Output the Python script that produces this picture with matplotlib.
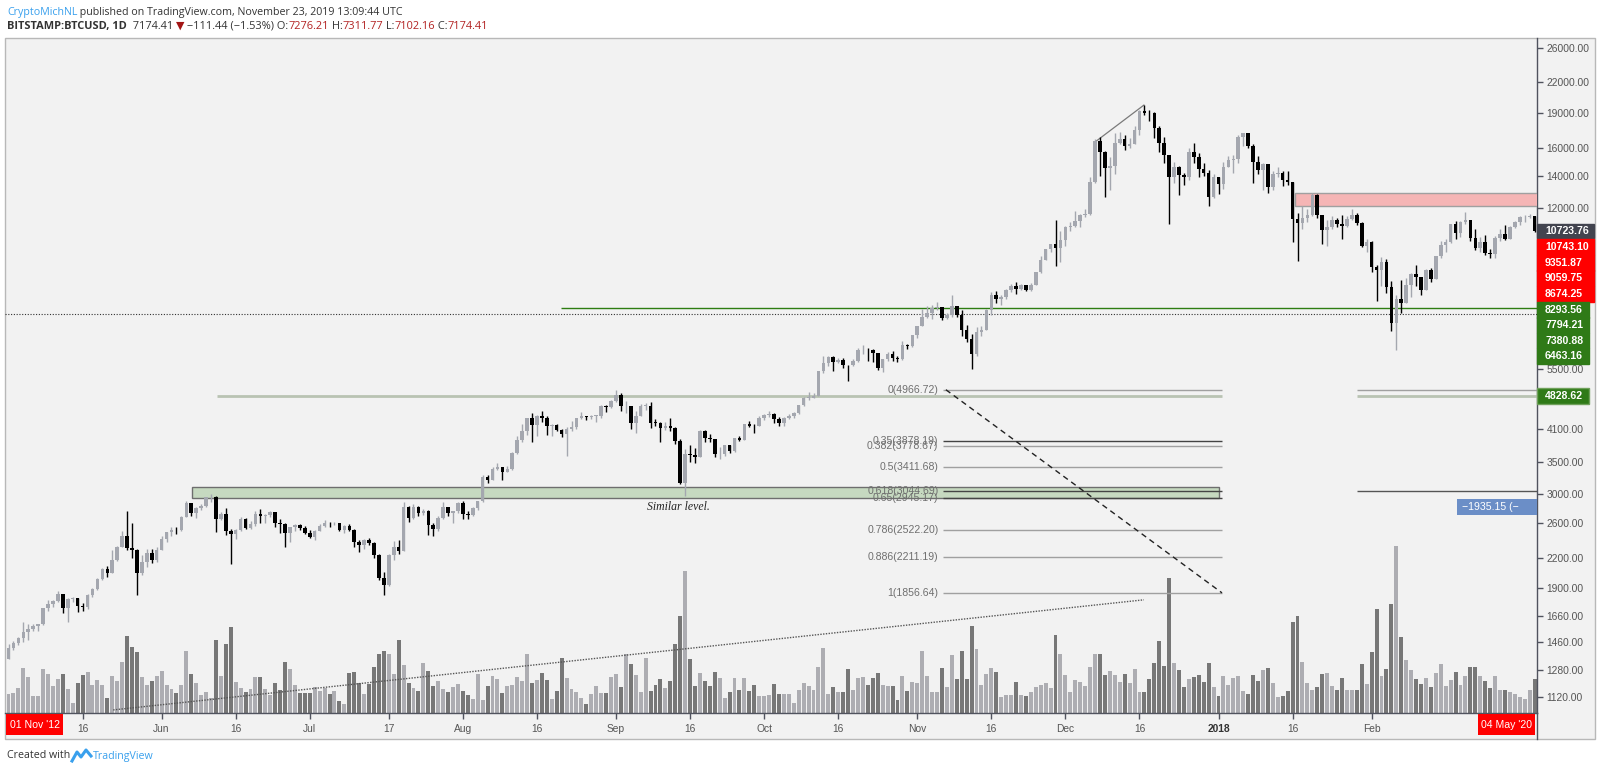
import datetime as dt
import numpy as np
import matplotlib
matplotlib.use("Agg")
import matplotlib.pyplot as plt
from matplotlib.patches import Rectangle
from matplotlib.lines import Line2D
from matplotlib.ticker import NullLocator

plt.rcParams['font.family'] = ['Liberation Sans', 'DejaVu Sans']

# ---------------- data (BITSTAMP:BTCUSD daily, 1 May 2017 -> 6 Mar 2018) ----------------
start_date = dt.date(2017, 5, 1)
first_open = 1348.0

closes = [
    1421, 1453, 1490, 1537, 1555, 1579, 1597, 1723, 1755, 1787, 1849, 1724, 1805, 1809, 1738, 1735,
    1839, 1889, 1988, 2085, 2041, 2173, 2320, 2444, 2305, 2290, 2040, 2156, 2256, 2176, 2286,  # May
    2408, 2489, 2515, 2512, 2687, 2863, 2732, 2806, 2824, 2948, 2958, 2660, 2717, 2506, 2465,
    2519, 2656, 2548, 2590, 2722, 2689, 2705, 2745, 2609, 2589, 2479, 2553, 2575, 2539, 2481,  # Jun
    2435, 2507, 2564, 2602, 2601, 2609, 2519, 2571, 2518, 2373, 2338, 2399, 2358, 2233, 1999, 1930,
    2228, 2319, 2273, 2818, 2668, 2810, 2730, 2755, 2577, 2530, 2672, 2809, 2727, 2757, 2875,  # Jul
    2718, 2711, 2805, 2896, 3253, 3214, 3379, 3420, 3342, 3381, 3651, 3885, 4073, 4325, 4182, 4377,
    4332, 4161, 4194, 4088, 4002, 4100, 4151, 4335, 4372, 4352, 4383, 4383, 4579, 4565, 4703,  # Aug
    4830, 4579, 4583, 4236, 4377, 4597, 4600, 4229, 4226, 4123, 4161, 4131, 3883, 3155, 3637,
    3625, 3583, 4065, 3925, 3906, 3631, 3631, 3792, 3683, 3926, 3892, 4201, 4175, 4163, 4339,  # Sep
    4404, 4409, 4318, 4229, 4328, 4371, 4427, 4611, 4772, 4782, 4827, 5447, 5647, 5832, 5678, 5726,
    5606, 5591, 5709, 6012, 6032, 6008, 5930, 5527, 5751, 5905, 5781, 5753, 6154, 6131, 6468,  # Oct
    6767, 7079, 7208, 7380, 7407, 7023, 7144, 7460, 7144, 6618, 6358, 5900, 6560, 6636, 7316,
    7872, 7709, 7790, 8036, 8201, 8071, 8254, 8039, 8254, 8791, 9331, 9818, 10059, 9889, 10234,  # Nov
    10900, 11000, 11250, 11600, 11650, 13600, 16550, 15700, 14560, 14700, 16390, 16700, 16200, 16300,
    17480, 19190, 19000, 18950, 17620, 16430, 15480, 13940, 14590, 14050, 13900, 15730, 15360, 14450,
    14200, 12650, 13900,  # Dec
    13450, 14630, 15120, 15150, 16920, 17200, 16160, 14990, 14400, 14800, 13280, 14150, 14200, 13700,
    13600, 11340, 11150, 11400, 11600, 12750, 11580, 10760, 10950, 11300, 11100, 11000, 11350, 11600,
    11150, 9960, 10150,  # Jan
    8985, 8850, 9200, 8180, 6850, 7690, 7560, 8250, 8700, 8560, 8050, 8870, 8500, 9490, 10010, 10180,
    11080, 10600, 11200, 11300, 10350, 9850, 10150, 9615, 9590, 10340, 10580, 10300,  # Feb
    10940, 11200, 11450, 11480, 11520, 10723.76,  # Mar
]

highs = [
    1450, 1470, 1500, 1610, 1600, 1598, 1600, 1725, 1790, 1790, 1875, 1850, 1810, 1820, 1810, 1770,
    1850, 1905, 1995, 2090, 2110, 2290, 2330, 2500, 2760, 2600, 2300, 2230, 2300, 2300, 2320,
    2450, 2490, 2560, 2550, 2700, 2900, 2870, 2815, 2850, 2950, 2990, 2975, 2750, 2800, 2530,
    2530, 2680, 2670, 2630, 2760, 2790, 2720, 2760, 2750, 2650, 2600, 2560, 2590, 2590, 2570,
    2520, 2520, 2590, 2640, 2620, 2620, 2610, 2580, 2590, 2530, 2400, 2410, 2420, 2380, 2240, 2050,
    2240, 2390, 2400, 2890, 2830, 2860, 2830, 2790, 2770, 2600, 2690, 2880, 2810, 2760, 2890,
    2900, 2760, 2810, 2900, 3290, 3280, 3420, 3480, 3420, 3440, 3680, 3960, 4200, 4330, 4430, 4400,
    4480, 4370, 4200, 4200, 4100, 4140, 4260, 4340, 4460, 4380, 4390, 4390, 4620, 4620, 4730,
    4960, 4900, 4700, 4580, 4480, 4640, 4650, 4680, 4310, 4250, 4250, 4330, 4140, 3920, 3730,
    3800, 3750, 4080, 4080, 4000, 3920, 3760, 3800, 3790, 3940, 3970, 4210, 4270, 4200, 4370,
    4410, 4470, 4430, 4350, 4360, 4420, 4460, 4620, 4800, 4920, 4880, 5450, 5850, 5840, 5860, 5790,
    5780, 5600, 5750, 6070, 6180, 6080, 6050, 5890, 5760, 5970, 6000, 5840, 6300, 6200, 6470,
    6770, 7350, 7450, 7480, 7600, 7430, 7200, 7860, 7460, 7320, 6800, 6490, 6730, 6750, 7330,
    7960, 8000, 7850, 8100, 8270, 8370, 8300, 8260, 8330, 8800, 9500, 9830, 10070, 11300, 10700,
    11000, 11200, 11800, 11650, 11900, 13900, 16700, 16900, 15800, 15300, 17200, 17300, 17100, 16800,
    17800, 19300, 19720, 19300, 19100, 17800, 16900, 15500, 15000, 14700, 14200, 16000, 16400, 15600,
    14900, 14400, 14100,
    13900, 15000, 15400, 15450, 17100, 17250, 17200, 16300, 15400, 14900, 14850, 14300, 14600, 14300,
    14300, 13600, 11700, 12100, 11900, 12900, 12800, 11600, 11300, 11500, 11400, 11600, 11500, 11900,
    11700, 11200, 10300,
    10200, 9100, 9450, 9350, 8400, 7850, 8450, 8550, 8750, 9100, 8560, 8900, 8950, 9500, 10200, 10300,
    11100, 11250, 11250, 11750, 11300, 10800, 10400, 10500, 9800, 10450, 10800, 11050,
    11000, 11250, 11550, 11600, 11650, 11550,
]

lows = [
    1348, 1405, 1445, 1460, 1480, 1545, 1540, 1590, 1700, 1735, 1780, 1680, 1610, 1775, 1690, 1700,
    1720, 1820, 1880, 1980, 2000, 2040, 2170, 2320, 2280, 2200, 1840, 2020, 2100, 2150, 2160,
    2280, 2380, 2450, 2470, 2510, 2680, 2700, 2670, 2780, 2810, 2880, 2490, 2640, 2460, 2140,
    2410, 2500, 2530, 2530, 2570, 2610, 2600, 2680, 2560, 2480, 2320, 2380, 2500, 2520, 2470,
    2420, 2400, 2500, 2560, 2560, 2580, 2500, 2480, 2510, 2320, 2260, 2300, 2340, 2200, 1980, 1840,
    1920, 2180, 2240, 2270, 2620, 2660, 2700, 2710, 2460, 2440, 2510, 2660, 2700, 2610, 2740,
    2660, 2650, 2700, 2780, 2880, 3160, 3200, 3360, 3200, 3330, 3370, 3630, 3850, 3990, 3850, 3970,
    4250, 3980, 3960, 4060, 3950, 3600, 4060, 4100, 4300, 4280, 4300, 4250, 4330, 4460, 4550,
    4690, 4480, 4430, 4100, 4030, 4380, 4500, 4120, 4160, 3860, 4080, 4060, 3810, 3150, 2970,
    3500, 3480, 3580, 3860, 3860, 3590, 3550, 3600, 3650, 3680, 3870, 3890, 4140, 4020, 4160,
    4290, 4360, 4220, 4170, 4160, 4320, 4330, 4410, 4590, 4730, 4760, 4820, 5380, 5570, 5450, 5640,
    5510, 5170, 5560, 5690, 5900, 5710, 5670, 5460, 5400, 5720, 5700, 5690, 5730, 6050, 6100,
    6380, 6760, 7020, 7010, 7300, 6960, 6990, 7080, 7060, 6440, 6250, 5500, 5850, 6440, 6640,
    7120, 7570, 7500, 7700, 7990, 7890, 8070, 8000, 8000, 8230, 8760, 9330, 9700, 9050, 9200,
    9950, 10700, 10900, 10950, 11450, 11600, 13550, 14000, 12640, 13100, 14100, 16300, 15900, 16000,
    16300, 17100, 18800, 18300, 16800, 15700, 14900, 11100, 13500, 12750, 13400, 13700, 14900, 13900,
    14000, 12080, 12600,
    12800, 13150, 14600, 14200, 14900, 16200, 16000, 13550, 14100, 13100, 12900, 13100, 13900, 13300,
    13400, 10170, 9280, 10800, 11200, 11500, 11400, 10060, 9950, 10800, 10900, 10300, 10900, 11300,
    11050, 9900, 9700,
    8800, 7650, 8200, 7950, 6600, 6020, 7200, 7600, 7800, 8200, 7850, 8050, 8350, 8500, 9400, 9700,
    10100, 10300, 10400, 11100, 10200, 9750, 9700, 9550, 9400, 9400, 10200, 10250,
    10300, 10850, 11050, 11200, 11400, 10650,
]

# volume (relative units)
volumes = [
    19, 20, 25, 45, 36, 17, 17, 44, 39, 27, 34, 39, 24, 10, 30, 38, 41, 28, 33, 28,
    15, 37, 32, 51, 77, 66, 61, 36, 28, 32, 37, 42, 28, 24, 20, 28, 62, 39, 30, 18,
    21, 15, 73, 37, 69, 86, 31, 25, 21, 24, 36, 36, 24, 18, 30, 23, 51, 44, 28,
    20, 20, 20, 26, 22, 25, 19, 22, 12, 9, 40, 41, 30, 19, 29, 46, 59, 62, 59, 39,
    73, 48, 30, 25, 22, 50, 42, 27, 32, 24, 21, 26, 29, 22, 18, 14, 39, 13, 27, 37,
    34, 20, 27, 28, 36, 32, 59, 30, 33, 40, 33, 14, 22, 55, 35, 24, 21, 15, 9, 19,
    27, 20, 20, 36, 39, 26, 59, 49, 38, 21, 55, 22, 28, 34, 25, 32, 69, 97, 142, 54,
    27, 40, 32, 27, 41, 35, 15, 21, 35, 23, 35, 22, 28, 17, 17,
    18, 29, 19, 19, 19, 10, 23, 30, 27, 23, 46, 65, 19, 26, 21, 21, 44, 23, 35, 36,
    28, 35, 40, 28, 27, 27, 13, 37, 22, 31, 30, 62, 37, 21, 21, 45, 26, 58, 34, 62,
    34, 87, 64, 28, 39, 45, 41, 16, 18, 18, 31, 18, 17, 21, 26, 28, 30, 25, 78, 59,
    38, 21, 33, 31, 27, 46, 59, 59, 38, 42, 38, 31, 39, 30, 44, 21, 21, 34, 50, 72,
    47, 135, 50, 43, 26, 34, 36, 38, 31, 50, 26, 17, 37, 28, 35, 37, 22, 19, 38, 32,
    43, 45, 30, 16, 17, 22, 91, 97, 51, 30, 23, 26, 39, 40, 27, 23, 35, 23, 23, 23,
    49, 29, 61, 104, 37, 44, 109, 167, 76, 53, 43, 34, 29, 35, 26, 40, 49, 27, 33, 41,
    28, 37, 46, 46, 37, 32, 25, 37, 23, 23, 21, 19, 16, 14, 23, 34,
]

price_ticks = [26000, 22000, 19000, 16000, 14000, 12000, 5500, 4100, 3500,
               3000, 2600, 2200, 1900, 1660, 1460, 1280, 1120]

time_tick_dates = ['2017-05-16', '2017-06-01', '2017-06-16', '2017-07-01', '2017-07-17',
                   '2017-08-01', '2017-08-16', '2017-09-01', '2017-09-16', '2017-10-01',
                   '2017-10-16', '2017-11-01', '2017-11-16', '2017-12-01', '2017-12-16',
                   '2018-01-01', '2018-01-16', '2018-02-01']
time_tick_labels = ['16', 'Jun', '16', 'Jul', '17', 'Aug', '16', 'Sep', '16', 'Oct',
                    '16', 'Nov', '16', 'Dec', '16', '2018', '16', 'Feb']

fib_ratios = [0, 0.35, 0.382, 0.5, 0.618, 0.65, 0.786, 0.886, 1]
fib_prices = [4966.72, 3878.19, 3778.67, 3411.68, 3044.69, 2945.17, 2522.20, 2211.19, 1856.64]

last_price = 7174.41
level_line = 4828.62
green_level = 7380.88
similar_zone = (2945.17, 3100.0)
resistance_zone = (12090.0, 12880.0)

tag_last = '10723.76'
tags_red = ['10743.10', '9351.87', '9059.75', '8674.25']
tags_green = ['8293.56', '7794.21', '7380.88', '6463.16']
tag_level = '4828.62'
tag_measure = '\u22121935.15 (\u2212'

# ---------------- figure ----------------
W, H = 1600, 771


def fx(x):
    return x / W


def fy(y):
    return 1 - y / H


def day_of(s):
    return (dt.date.fromisoformat(s) - start_date).days


c = np.array(closes, float)
o = np.concatenate([[first_open], c[:-1]])
hi = np.maximum(np.array(highs, float), np.maximum(o, c))
lo = np.minimum(np.array(lows, float), np.minimum(o, c))
days = np.arange(len(c))
up = c >= o

fig = plt.figure(figsize=(16, 7.71), dpi=100)
fig.patch.set_facecolor('white')
fig.add_artist(Rectangle((fx(5), fy(739)), fx(1595) - fx(5), fy(38) - fy(739),
                         transform=fig.transFigure, facecolor='#f2f2f2',
                         edgecolor='#b8b8b8', lw=1, zorder=-5))

rect = [fx(5), fy(713), fx(1537) - fx(5), fy(38) - fy(713)]
vax = fig.add_axes(rect, zorder=1)
ax = fig.add_axes(rect, zorder=2)
xlim = (-0.71, 309.49)

# volume
vax.set_facecolor('none')
vcol = np.where(up, '#adadb2', '#777777')
vax.bar(days, volumes, width=0.8, color=vcol, lw=0)
vax.set_xlim(xlim)
vax.set_ylim(0, 675)
vax.axis('off')

# price axis
ax.set_facecolor('none')
ax.set_yscale('log')
ax.set_xlim(xlim)
ax.set_ylim(1037.4, 27291)

# zones and drawings
ax.add_patch(Rectangle((37.2, similar_zone[0]), 245.2 - 37.2, similar_zone[1] - similar_zone[0],
                       facecolor='#c6d9c0', edgecolor='#6e6e6e', lw=1, zorder=3))
ax.add_patch(Rectangle((260.5, resistance_zone[0]), 60, resistance_zone[1] - resistance_zone[0],
                       facecolor='#f5b5b5', edgecolor='#a0a0a0', lw=1, zorder=3))
ax.hlines(level_line, 42.2, 245.7, color='#b9c3b3', lw=2, zorder=3)
ax.hlines(level_line, 273, 320, color='#b9c3b3', lw=2, zorder=3)
ax.hlines(fib_prices[0], 273, 320, color='#a0a0a0', lw=1, zorder=3)
ax.hlines(fib_prices[4], 273, 320, color='#555555', lw=1, zorder=3)
ax.hlines(green_level, 111.9, 320, color='#2e7d12', lw=1, zorder=4)
ax.axhline(last_price, color='#333333', lw=0.8, ls=(0, (1, 1.5)), zorder=4)

dark_levels = {0.35, 0.618, 0.65}
for r, p in zip(fib_ratios, fib_prices):
    ax.hlines(p, 189.2, 245.7, color='#444444' if r in dark_levels else '#a0a0a0', lw=1, zorder=4)
    ax.text(188.3, p, f'{r:g}({p:.2f})', ha='right', va='center', fontsize=7.6,
            color='#6f6f6f', zorder=4)
ax.plot([189.8, 245.7], [fib_prices[0], fib_prices[-1]], color='#222222', lw=1,
        ls=(0, (4, 3)), zorder=4)
ax.plot([21.2, 229.9], [1053, 1795], color='#555555', lw=1, ls=(0, (1, 1)), zorder=4)
ax.plot([220.2, 229.9], [16550, 19720], color='#7a7a7a', lw=0.9, zorder=4)
ax.text(135.6, 2812, 'Similar level.', ha='center', va='center', fontsize=8.5,
        style='italic', family='Liberation Serif', color='#222222', zorder=4)

# candles
ccol = np.where(up, '#a4a7af', '#000000')
ax.vlines(days, lo, hi, colors=ccol, lw=1, zorder=5)
b0 = np.minimum(o, c)
b1 = np.maximum(np.maximum(o, c), b0 * 1.003)
ax.bar(days, b1 - b0, bottom=b0, width=0.72, color=ccol, lw=0, zorder=6)

# axes cosmetics
for s in ('top', 'left'):
    ax.spines[s].set_visible(False)
for s in ('right', 'bottom'):
    ax.spines[s].set_color('#50535e')
    ax.spines[s].set_linewidth(1)
ax.yaxis.tick_right()
ax.set_yticks(price_ticks)
ax.set_yticklabels([f'{v:.2f}' for v in price_ticks])
ax.yaxis.set_minor_locator(NullLocator())
ax.tick_params(axis='y', which='both', direction='out', length=4, width=1, color='#50535e',
               labelcolor='#555555', labelsize=7.4, pad=3)
ax.set_xticks([day_of(d) for d in time_tick_dates])
ax.set_xticklabels(time_tick_labels)
ax.tick_params(axis='x', direction='out', length=4, width=1, color='#50535e',
               labelcolor='#555555', labelsize=7.4, pad=4)
for t in ax.get_xticklabels():
    if t.get_text() == '2018':
        t.set_fontweight('bold')
        t.set_color('#333333')

fig.add_artist(Line2D([fx(1537), fx(1537)], [fy(713), fy(739)], transform=fig.transFigure,
                      color='#50535e', lw=1))


# price tags on the right
def tag(y0, y1, text, face, edge=None, x1=1594):
    fig.add_artist(Rectangle((fx(1537), fy(y1)), fx(x1) - fx(1537), fy(y0) - fy(y1),
                             transform=fig.transFigure, facecolor=face,
                             edgecolor=edge or face, lw=1, zorder=10))
    fig.text(fx(1545), fy((y0 + y1) / 2), text, color='white', fontsize=7.6,
             fontweight='bold', va='center', ha='left', zorder=11)


tag(224, 238, tag_last, '#42444f')
for i, t in enumerate(tags_red):
    tag(239 + i * 15.75, 239 + (i + 1) * 15.75, t, '#ff0000')
for i, t in enumerate(tags_green):
    tag(302 + i * 15.5, 302 + (i + 1) * 15.5, t, '#2f7a17', x1=1589)
tag(388, 404, tag_level, '#2f7a17', edge='#6fa05a', x1=1589)

fig.add_artist(Rectangle((fx(1457), fy(515)), fx(1537) - fx(1457), fy(499) - fy(515),
                         transform=fig.transFigure, facecolor='#6b8ec7', lw=0, zorder=10))
fig.text(fx(1462), fy(507), tag_measure, color='white', fontsize=7.6, va='center',
         ha='left', zorder=11)

# date boxes on the time axis
for x0, x1, t in ((6, 63, "01 Nov '12"), (1478, 1535, "04 May '20")):
    fig.add_artist(Rectangle((fx(x0), fy(735)), fx(x1) - fx(x0), fy(714) - fy(735),
                             transform=fig.transFigure, facecolor='#ff0000', lw=0, zorder=10))
    fig.text(fx((x0 + x1) / 2), fy(725), t, color='white', fontsize=7.6, va='center',
             ha='center', zorder=11)


# header / footer text in several colours
def chain(x, y, parts, size):
    prev = fig.text(fx(x), fy(y), parts[0][0], color=parts[0][1], fontweight=parts[0][2],
                    fontsize=size, va='bottom', ha='left',
                    family=['Open Sans', 'DejaVu Sans'])
    for txt, col, wt in parts[1:]:
        prev = ax.annotate(txt, xy=(1, 0), xycoords=prev, va='bottom', ha='left',
                           color=col, fontweight=wt, fontsize=size,
                           family=['Open Sans', 'DejaVu Sans'], annotation_clip=False)


dark = '#333333'
red = '#b22222'
chain(7, 18, [('CryptoMichNL', '#39a0ed', 'normal'),
              (' published on TradingView.com, November 23, 2019 13:09:44 UTC', dark, 'normal')], 7.7)
chain(7, 32, [('BITSTAMP:BTCUSD, 1D', dark, 'bold'), ('  7174.41 ', dark, 'normal'),
              ('\u25bc', '#a31515', 'normal'), (' \u2212111.44 (\u22121.53%) O:', dark, 'normal'),
              ('7276.21', red, 'normal'), (' H:', dark, 'normal'), ('7311.77', red, 'normal'),
              (' L:', dark, 'normal'), ('7102.16', red, 'normal'), (' C:', dark, 'normal'),
              ('7174.41', red, 'normal')], 7.9)

fig.text(fx(7), fy(756), 'Created with', color=dark, fontsize=7.7, va='center', ha='left',
         family=['Open Sans', 'DejaVu Sans'])
fig.add_artist(Line2D([fx(72), fx(77), fx(81), fx(86), fx(91)],
                      [fy(761), fy(752), fy(757), fy(750), fy(756)],
                      transform=fig.transFigure, color='#39a0ed', lw=2.2))
fig.text(fx(93), fy(756), 'TradingView', color='#39a0ed', fontsize=7.7, va='center',
         ha='left', family=['Open Sans', 'DejaVu Sans'])

fig.savefig('out.png', dpi=100, facecolor='white')
